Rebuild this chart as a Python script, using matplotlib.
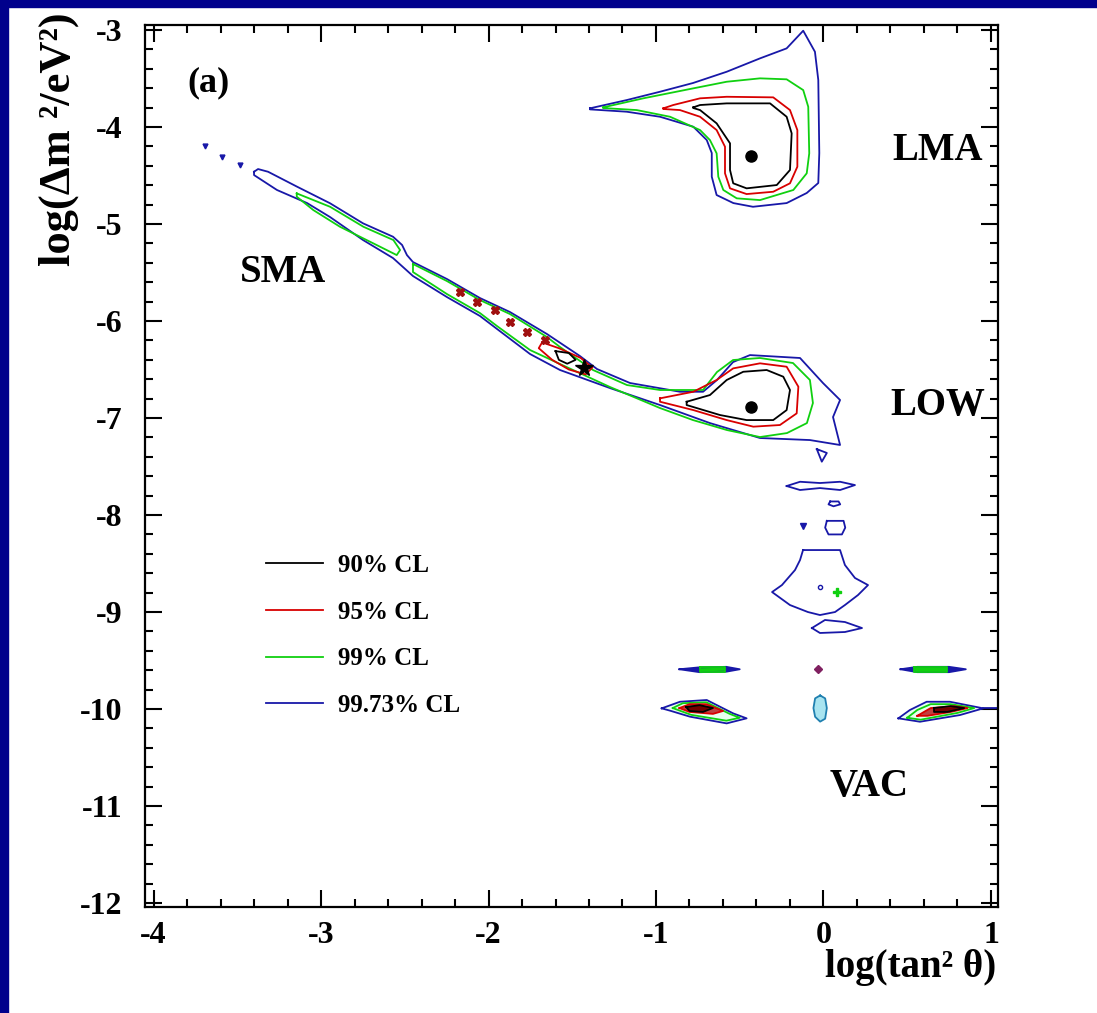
import matplotlib
matplotlib.use("Agg")
import matplotlib.pyplot as plt
from matplotlib.patches import Rectangle

plt.rcParams['font.family'] = ['Liberation Serif', 'DejaVu Serif']
plt.rcParams['font.weight'] = 'bold'
plt.rcParams['axes.unicode_minus'] = False

# ---- contour data: (log tan^2 theta, log dm^2) ----
LMA_90 = [(-0.777, -3.797), (-0.737, -3.773), (-0.578, -3.756), (-0.319, -3.756), (-0.220, -3.894),
          (-0.190, -4.065), (-0.200, -4.443), (-0.279, -4.598), (-0.459, -4.632), (-0.539, -4.580),
          (-0.558, -4.443), (-0.558, -4.168), (-0.638, -3.962), (-0.737, -3.825), (-0.777, -3.804)]
LMA_95 = [(-0.956, -3.807), (-0.897, -3.773), (-0.737, -3.704), (-0.578, -3.688), (-0.300, -3.694),
          (-0.200, -3.825), (-0.156, -4.031), (-0.156, -4.409), (-0.200, -4.580), (-0.300, -4.667),
          (-0.459, -4.691), (-0.558, -4.632), (-0.588, -4.477), (-0.588, -4.203), (-0.638, -4.031),
          (-0.737, -3.894), (-0.857, -3.825), (-0.956, -3.814)]
LMA_99 = [(-1.315, -3.797), (-1.076, -3.704), (-0.777, -3.601), (-0.578, -3.533), (-0.379, -3.498),
          (-0.220, -3.508), (-0.121, -3.619), (-0.091, -3.791), (-0.085, -4.271), (-0.100, -4.477),
          (-0.180, -4.649), (-0.379, -4.753), (-0.518, -4.735), (-0.598, -4.649), (-0.628, -4.512),
          (-0.638, -4.271), (-0.678, -4.134), (-0.737, -4.031), (-0.916, -3.894), (-1.115, -3.825),
          (-1.315, -3.804)]
LMA_9973 = [(-1.394, -3.807), (-1.175, -3.722), (-0.976, -3.636), (-0.779, -3.546), (-0.578, -3.430),
            (-0.379, -3.292), (-0.220, -3.189), (-0.121, -3.007), (-0.051, -3.224), (-0.031, -3.515),
            (-0.025, -4.268), (-0.031, -4.577), (-0.100, -4.680), (-0.220, -4.784), (-0.421, -4.822),
            (-0.538, -4.784), (-0.638, -4.701), (-0.667, -4.512), (-0.667, -4.268), (-0.697, -4.134),
            (-0.777, -3.997), (-0.976, -3.894), (-1.175, -3.842), (-1.394, -3.818)]

LOW_90 = [(-0.817, -6.832), (-0.678, -6.763), (-0.578, -6.608), (-0.479, -6.523), (-0.339, -6.505),
          (-0.240, -6.574), (-0.200, -6.711), (-0.220, -6.918), (-0.300, -7.021), (-0.459, -7.021),
          (-0.618, -6.969), (-0.817, -6.866)]
LOW_95 = [(-0.976, -6.797), (-0.777, -6.729), (-0.638, -6.608), (-0.539, -6.488), (-0.379, -6.436),
          (-0.220, -6.471), (-0.150, -6.677), (-0.160, -6.952), (-0.260, -7.072), (-0.419, -7.089),
          (-0.578, -7.021), (-0.777, -6.918), (-0.976, -6.832)]
SMA_LOW_99 = [(-2.451, -5.412), (-2.248, -5.588), (-2.051, -5.784), (-1.872, -5.928), (-1.651, -6.165),
              (-1.573, -6.268), (-1.376, -6.505), (-1.173, -6.660), (-0.976, -6.711), (-0.719, -6.711),
              (-0.636, -6.526), (-0.540, -6.402), (-0.379, -6.381), (-0.182, -6.433), (-0.081, -6.608),
              (-0.063, -6.845), (-0.099, -7.052), (-0.218, -7.155), (-0.379, -7.196), (-0.576, -7.124),
              (-0.779, -7.021), (-0.976, -6.897), (-1.275, -6.680), (-1.573, -6.443), (-1.752, -6.299),
              (-1.949, -6.052), (-2.051, -5.918), (-2.248, -5.722), (-2.451, -5.495)]
SMA_99_A = [(-3.145, -4.684), (-2.946, -4.822), (-2.747, -5.028), (-2.568, -5.165), (-2.528, -5.268),
            (-2.548, -5.320), (-2.688, -5.199), (-2.887, -5.028), (-3.046, -4.856), (-3.145, -4.718)]
SMA_LOW_9973 = [(-3.400, -4.461), (-3.376, -4.433), (-3.316, -4.461), (-3.143, -4.615), (-2.946, -4.786),
                (-2.749, -4.993), (-2.570, -5.131), (-2.516, -5.216), (-2.487, -5.320), (-2.451, -5.392),
                (-2.248, -5.567), (-2.051, -5.763), (-1.872, -5.907), (-1.651, -6.134), (-1.454, -6.361),
                (-1.352, -6.495), (-1.155, -6.639), (-0.857, -6.729), (-0.719, -6.729), (-0.636, -6.608),
                (-0.540, -6.423), (-0.439, -6.351), (-0.140, -6.381), (-0.003, -6.639), (0.099, -6.814),
                (0.057, -6.990), (0.081, -7.155), (0.099, -7.278), (-0.081, -7.227), (-0.379, -7.206),
                (-0.678, -7.052), (-0.976, -6.866), (-1.275, -6.691), (-1.573, -6.505), (-1.752, -6.340),
                (-1.949, -6.082), (-2.051, -5.948), (-2.248, -5.753), (-2.451, -5.536), (-2.570, -5.351),
                (-2.749, -5.165), (-2.946, -4.928), (-3.083, -4.784), (-3.263, -4.649), (-3.400, -4.495)]
SMA_95 = [(-1.68, -6.22), (-1.58, -6.28), (-1.45, -6.38), (-1.38, -6.48), (-1.42, -6.55),
          (-1.52, -6.50), (-1.62, -6.40), (-1.70, -6.28)]
SMA_90 = [(-1.60, -6.31), (-1.52, -6.33), (-1.48, -6.40), (-1.53, -6.44), (-1.58, -6.40)]
SMA_95_islands_x = [-2.170, -2.070, -1.961, -1.872, -1.772, -1.663]
SMA_95_islands_y = [-5.698, -5.801, -5.887, -6.007, -6.110, -6.196]
SMA_dots_x = [-3.693, -3.593, -3.484]
SMA_dots_y = [-4.193, -4.306, -4.392]

# vacuum / quasi-vacuum islands (99.73% CL)
VAC_tri = [(-0.04, -7.32), (0.02, -7.36), (-0.01, -7.45)]
VAC_lens77 = [(-0.220, -7.701), (-0.140, -7.657), (-0.021, -7.670), (0.099, -7.657), (0.188, -7.691),
              (0.099, -7.742), (-0.021, -7.722), (-0.140, -7.742)]
VAC_blob79 = [(0.04, -7.86), (0.09, -7.86), (0.10, -7.89), (0.06, -7.91), (0.03, -7.89)]
VAC_sq81 = [(0.02, -8.06), (0.12, -8.06), (0.13, -8.13), (0.11, -8.20), (0.03, -8.20), (0.01, -8.13)]
VAC_bell = [(-0.122, -8.361), (0.099, -8.361), (0.128, -8.515), (0.188, -8.649), (0.266, -8.722),
            (0.206, -8.825), (0.128, -8.928), (0.069, -9.000), (-0.021, -9.031), (-0.093, -9.000),
            (-0.200, -8.928), (-0.307, -8.794), (-0.248, -8.722), (-0.170, -8.567), (-0.140, -8.464)]
VAC_foot = [(-0.069, -9.165), (0.009, -9.082), (0.128, -9.103), (0.230, -9.165), (0.128, -9.206),
            (-0.021, -9.216)]
VAC_L96 = [(-0.86, -9.59), (-0.74, -9.57), (-0.58, -9.565), (-0.50, -9.59), (-0.58, -9.615), (-0.74, -9.62)]
VAC_L96_g = [(-0.74, -9.57), (-0.59, -9.57), (-0.59, -9.615), (-0.74, -9.615)]
VAC_R96 = [(0.46, -9.59), (0.56, -9.565), (0.75, -9.565), (0.85, -9.59), (0.75, -9.62), (0.56, -9.62)]
VAC_R96_g = [(0.54, -9.57), (0.74, -9.57), (0.74, -9.615), (0.54, -9.615)]
VAC_L100_b = [(-0.966, -9.993), (-0.857, -9.925), (-0.697, -9.907), (-0.539, -10.045), (-0.459, -10.096),
              (-0.578, -10.148), (-0.797, -10.079), (-0.916, -10.017)]
VAC_L100_g = [(-0.90, -9.99), (-0.84, -9.94), (-0.70, -9.93), (-0.56, -10.05), (-0.50, -10.09),
              (-0.58, -10.12), (-0.79, -10.06)]
VAC_L100_r = [(-0.86, -9.99), (-0.80, -9.95), (-0.70, -9.95), (-0.60, -10.02), (-0.66, -10.05), (-0.80, -10.03)]
VAC_L100_k = [(-0.82, -9.98), (-0.74, -9.96), (-0.66, -9.99), (-0.72, -10.03), (-0.80, -10.02)]
VAC_R100_b = [(0.447, -10.096), (0.516, -10.010), (0.616, -9.925), (0.755, -9.925), (0.954, -9.993),
              (0.815, -10.062), (0.576, -10.131)]
VAC_R100_tail = [(0.954, -9.993), (1.042, -9.993)]
VAC_R100_g = [(0.50, -10.09), (0.56, -10.01), (0.64, -9.95), (0.76, -9.95), (0.90, -9.99),
              (0.80, -10.04), (0.58, -10.11)]
VAC_R100_r = [(0.56, -10.07), (0.64, -9.99), (0.78, -9.97), (0.86, -9.99), (0.76, -10.03), (0.62, -10.07)]
VAC_R100_k = [(0.66, -9.99), (0.76, -9.97), (0.84, -9.99), (0.74, -10.03), (0.66, -10.03)]
VAC_C100 = [(-0.02, -9.86), (0.01, -9.89), (0.02, -9.99), (0.01, -10.10), (-0.02, -10.13),
            (-0.05, -10.08), (-0.06, -9.99), (-0.05, -9.89)]

best_fit_x = [-0.43, -0.43]
best_fit_y = [-4.30, -6.89]
sma_best = (-1.43, -6.48)

cl_labels = ["90% CL", "95% CL", "99% CL", "99.73% CL"]
cl_colors = ["black", "#d80000", "#10d010", "#1818a8"]

regions = ["LMA", "SMA", "LOW", "VAC"]
region_x = [0.68, -3.23, 0.68, 0.27]
region_y = [-4.24, -5.50, -6.87, -10.80]

fig = plt.figure(figsize=(10.97, 10.13), dpi=100)
fig.patch.set_facecolor("white")
fig.patches.append(Rectangle((0, 1 - 7 / 1013), 1, 7 / 1013, transform=fig.transFigure,
                             color="#00008c", zorder=0))
fig.patches.append(Rectangle((0, 0), 8 / 1097, 1, transform=fig.transFigure,
                             color="#00008c", zorder=0))

ax = fig.add_axes([145 / 1097, 1 - 907 / 1013, 853 / 1097, 882 / 1013])


def loop(pts, color, lw=1.3, fill=None):
    xs = [p[0] for p in pts] + [pts[0][0]]
    ys = [p[1] for p in pts] + [pts[0][1]]
    if fill is not None:
        ax.fill(xs, ys, color=fill, lw=0)
    ax.plot(xs, ys, color=color, lw=lw)


k, r, g, b = cl_colors

loop(LMA_9973, b); loop(LMA_99, g); loop(LMA_95, r); loop(LMA_90, k)
loop(SMA_LOW_9973, b); loop(SMA_LOW_99, g); loop(SMA_99_A, g)
loop(LOW_95, r); loop(LOW_90, k)
loop(SMA_95, r); loop(SMA_90, k)
ax.plot(SMA_95_islands_x, SMA_95_islands_y, ls="none", marker="X", ms=6, color="#a01010")
ax.plot(SMA_dots_x, SMA_dots_y, ls="none", marker="v", ms=3.5, color=b)
ax.plot(*sma_best, marker="*", ms=13, color="black")

for shape in [VAC_tri, VAC_lens77, VAC_blob79, VAC_sq81, VAC_bell, VAC_foot]:
    loop(shape, b)
ax.plot(-0.121, -8.113, marker="v", ms=4, color=b)
ax.plot(-0.02, -8.74, marker="o", ms=3, mfc="white", mec=b)
ax.plot(0.08, -8.79, marker="P", ms=6, color=g)

loop(VAC_L96, b, fill=b); loop(VAC_L96_g, g, fill=g)
loop(VAC_R96, b, fill=b); loop(VAC_R96_g, g, fill=g)
ax.plot(-0.03, -9.59, marker="D", ms=4, color="#802060")
for bl, gr, rd, kk in [(VAC_L100_b, VAC_L100_g, VAC_L100_r, VAC_L100_k),
                       (VAC_R100_b, VAC_R100_g, VAC_R100_r, VAC_R100_k)]:
    loop(bl, b, fill="#e8fff0"); loop(gr, g); loop(rd, r, fill="#c04040"); loop(kk, k, fill="#700000")
ax.plot([p[0] for p in VAC_R100_tail], [p[1] for p in VAC_R100_tail], color=b, lw=1.3)
loop(VAC_C100, "#2080b0", fill="#a8e4f0")

ax.plot(best_fit_x, best_fit_y, ls="none", marker="o", ms=8, color="black")

# legend
for lab, col in zip(cl_labels, cl_colors):
    ax.plot([], [], color=col, lw=1.3, label=lab)
leg = ax.legend(loc="upper left", bbox_to_anchor=(0.115, 0.426), frameon=False,
                fontsize=18, handlelength=2.3, handletextpad=0.6, labelspacing=0.95)
for t in leg.get_texts():
    t.set_fontweight("bold")

for name, x, y in zip(regions, region_x, region_y):
    ax.text(x, y, name, fontsize=28, fontweight="bold", ha="center", va="center")
ax.text(-3.67, -3.54, "(a)", fontsize=26, fontweight="bold", ha="center", va="center")

ax.set_xlim(-4.051, 1.042)
ax.set_ylim(-12.041, -2.948)
ax.set_xticks([-4, -3, -2, -1, 0, 1])
ax.set_yticks(list(range(-12, -2)))
ax.set_xticks([v / 5 for v in range(-20, 6)], minor=True)
ax.set_yticks([v / 5 for v in range(-60, -14)], minor=True)
ax.tick_params(which="both", direction="in", top=True, right=True, width=1.5, colors="black")
ax.tick_params(which="major", length=12, labelsize=23)
ax.tick_params(axis="x", which="major", pad=10)
ax.tick_params(axis="y", which="major", pad=16)
ax.tick_params(which="minor", length=6)
for lab in ax.get_xticklabels() + ax.get_yticklabels():
    lab.set_fontweight("bold")
for sp in ax.spines.values():
    sp.set_linewidth(1.6)

fig.text(59 / 1097, 1 - 139 / 1013, "log(\u0394m \u00b2/eV\u00b2)", rotation=90, fontsize=32,
         fontweight="bold", ha="center", va="center")
fig.text(911 / 1097, 1 - 967 / 1013, "log(tan\u00b2 \u03b8)", fontsize=28, fontweight="bold",
         ha="center", va="center")

fig.savefig("out.png", dpi=100, facecolor="white")
